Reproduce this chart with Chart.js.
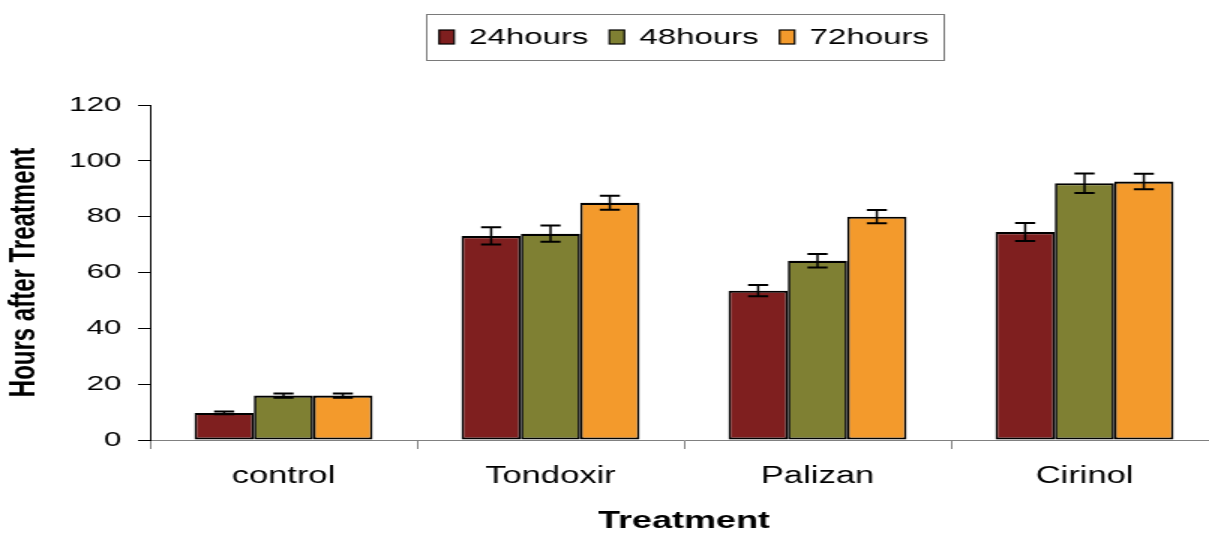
<!DOCTYPE html>
<html>
<head>
<meta charset="utf-8">
<script src="https://cdn.jsdelivr.net/npm/chart.js@4.4.1/dist/chart.umd.min.js"></script>
<style>
  html, body { margin: 0; padding: 0; background: #fff; overflow: hidden; }
  /* the original picture is stretched sideways, so the chart is drawn narrow and widened;
     its right edge runs a little past the window, as in the original */
  #wrap { width: 812px; height: 533px; transform: scaleX(1.5); transform-origin: 0 0; }
</style>
</head>
<body>
<div id="wrap"><canvas id="chart" width="812" height="533"></canvas></div>
<script>
const categories = ['control', 'Tondoxir', 'Palizan', 'Cirinol'];
const seriesNames = ['24hours', '48hours', '72hours'];
const hours24 = [9.7, 73.1, 53.5, 74.5];
const hours48 = [15.9, 73.9, 64.2, 92.0];
const hours72 = [15.9, 85.0, 80.0, 92.6];
const err24 = [0.5, 3.1, 2.0, 3.2];
const err48 = [0.8, 2.9, 2.4, 3.5];
const err72 = [0.8, 2.5, 2.4, 2.8];
const yTicks = [0, 20, 40, 60, 80, 100, 120];

const colors = ['#7F1F1F', '#7F8033', '#F39A2C'];
const FONT = '"Liberation Sans", Arial, sans-serif';

// error bars, drawn from the bar elements and the y scale
const errorBars = {
  id: 'errorBars',
  afterDatasetsDraw(chart) {
    const ctx = chart.ctx;
    const y = chart.scales.y;
    ctx.save();
    ctx.strokeStyle = '#000';
    chart.data.datasets.forEach((ds, i) => {
      const meta = chart.getDatasetMeta(i);
      meta.data.forEach((bar, j) => {
        const v = ds.data[j], e = ds.errors[j];
        const top = y.getPixelForValue(v + e);
        const bot = y.getPixelForValue(v - e);
        ctx.lineWidth = 1.5;
        ctx.beginPath();
        ctx.moveTo(bar.x, top);
        ctx.lineTo(bar.x, bot);
        ctx.stroke();
        ctx.lineWidth = 2;
        ctx.beginPath();
        ctx.moveTo(bar.x - 6.7, top); ctx.lineTo(bar.x + 6.7, top);
        ctx.moveTo(bar.x - 6.7, bot); ctx.lineTo(bar.x + 6.7, bot);
        ctx.stroke();
      });
    });
    ctx.restore();
  }
};

// boxed legend centred over the plot area
const boxLegend = {
  id: 'boxLegend',
  afterDraw(chart) {
    const ctx = chart.ctx;
    const area = chart.chartArea;
    ctx.save();
    ctx.font = '22px ' + FONT;
    const sw = 10, sh = 14, gap = 10, itemGap = 14, padL = 9, padR = 9;
    const widths = chart.data.datasets.map(d => ctx.measureText(d.label).width);
    let content = 0;
    widths.forEach((w, i) => { content += sw + gap + w + (i ? itemGap : 0); });
    const W = padL + content + padR;
    const top = 14, H = 46;
    const cy = top + H / 2;
    let x = (area.left + area.right) / 2 - W / 2;
    ctx.strokeStyle = '#7a7a7a';
    ctx.lineWidth = 1;
    ctx.strokeRect(Math.round(x) + 0.5, top + 0.5, Math.round(W), H);
    x += padL;
    ctx.textBaseline = 'middle';
    chart.data.datasets.forEach((d, i) => {
      ctx.fillStyle = d.backgroundColor;
      ctx.fillRect(x, cy - sh / 2, sw, sh);
      ctx.strokeStyle = '#000';
      ctx.lineWidth = 1.2;
      ctx.strokeRect(x, cy - sh / 2, sw, sh);
      x += sw + gap;
      ctx.fillStyle = '#000';
      ctx.fillText(d.label, x, cy + 1);
      x += widths[i] + itemGap;
    });
    ctx.restore();
  }
};

const values = [hours24, hours48, hours72];
const errors = [err24, err48, err72];

new Chart(document.getElementById('chart'), {
  type: 'bar',
  data: {
    labels: categories,
    datasets: seriesNames.map((name, i) => ({
      label: name,
      data: values[i],
      errors: errors[i],
      backgroundColor: colors[i],
      borderColor: '#000',
      borderWidth: { top: 2.2, bottom: 2, left: 1.7, right: 1.7 },
      borderSkipped: false,
      barPercentage: 1.0,
      categoryPercentage: 0.667
    }))
  },
  options: {
    responsive: false,
    devicePixelRatio: 1,
    animation: false,
    layout: { padding: { top: 105, left: 0, right: 0, bottom: 0 } },
    plugins: {
      legend: { display: false },
      tooltip: { enabled: false }
    },
    scales: {
      x: {
        grid: { display: true, drawOnChartArea: false, offset: true, tickLength: 9, color: '#808080' },
        border: { color: '#808080', width: 1 },
        ticks: { color: '#000', font: { family: FONT, size: 23 }, padding: 14, maxRotation: 0 },
        title: {
          display: true, text: 'Treatment', color: '#000',
          font: { family: FONT, size: 24, weight: 'bold', lineHeight: 1.0 },
          padding: { top: 0, bottom: 0 }
        },
        afterFit(scale) { scale.height = 93; }
      },
      y: {
        min: 0, max: 120,
        afterBuildTicks(scale) { scale.ticks = yTicks.map(v => ({ value: v })); },
        grid: { display: true, drawOnChartArea: false, tickLength: 8, color: '#000' },
        border: { color: '#000', width: 1 },
        ticks: { color: '#000', font: { family: FONT, size: 21 }, padding: 11 },
        title: {
          display: true, text: 'Hours after Treatment', color: '#000',
          font: { family: FONT, size: 24, weight: 'bold', lineHeight: 1.2 },
          padding: { top: 2, bottom: 0 }
        },
        afterFit(scale) { scale.width = 100; }
      }
    }
  },
  plugins: [errorBars, boxLegend]
});
</script>
</body>
</html>
